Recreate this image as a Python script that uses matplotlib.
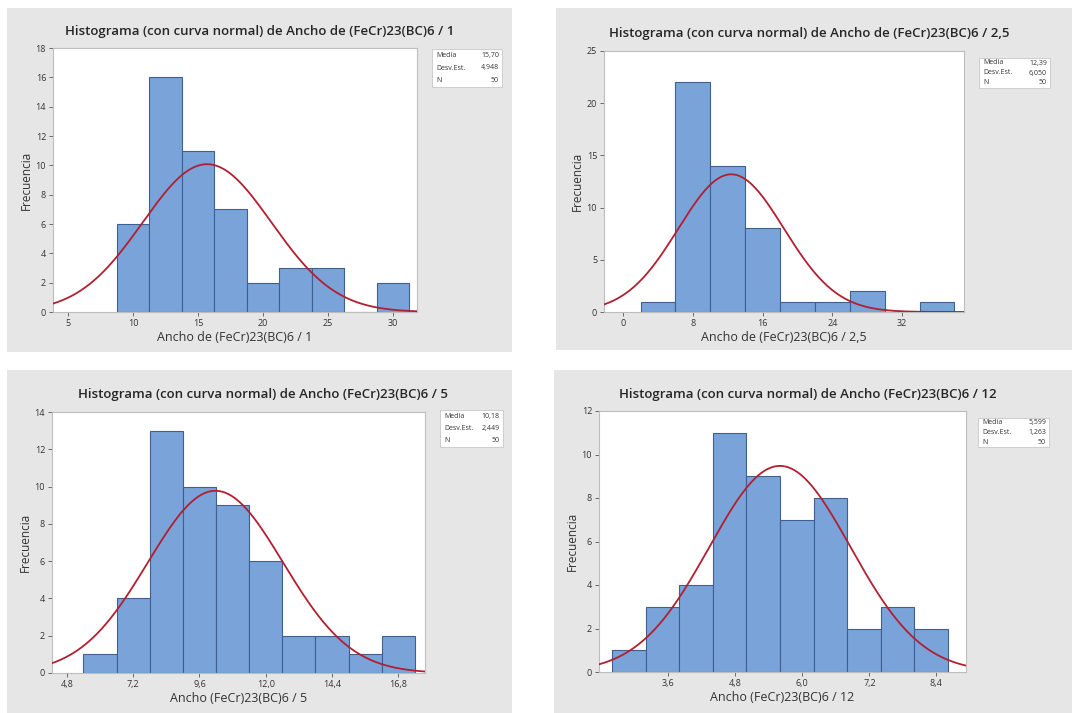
import matplotlib
matplotlib.use("Agg")
import matplotlib.pyplot as plt
from matplotlib.patches import Rectangle
from matplotlib.ticker import FuncFormatter
import numpy as np

plt.rcParams['font.family'] = ['Open Sans', 'DejaVu Sans']

W, H = 1072, 713

# --- data ------------------------------------------------------------------
titles = [
    "Histograma (con curva normal) de Ancho de (FeCr)23(BC)6 / 1",
    "Histograma (con curva normal) de Ancho de (FeCr)23(BC)6 / 2,5",
    "Histograma (con curva normal) de Ancho (FeCr)23(BC)6 / 5",
    "Histograma (con curva normal) de Ancho (FeCr)23(BC)6 / 12",
]
xlabels = [
    "Ancho de (FeCr)23(BC)6 / 1",
    "Ancho de (FeCr)23(BC)6 / 2,5",
    "Ancho (FeCr)23(BC)6 / 5",
    "Ancho (FeCr)23(BC)6 / 12",
]
bin_start = [8.75, 2.0, 5.4, 2.6]
bin_width = [2.5, 4.0, 1.2, 0.6]
counts_1 = [6, 16, 11, 7, 2, 3, 3, 0, 2]
counts_2 = [1, 22, 14, 8, 1, 1, 2, 0, 1]
counts_3 = [1, 4, 13, 10, 9, 6, 2, 2, 1, 2]
counts_4 = [1, 3, 4, 11, 9, 7, 8, 2, 3, 2]
counts = [counts_1, counts_2, counts_3, counts_4]

means = [15.70, 12.39, 10.18, 5.599]
stdevs = [4.948, 6.050, 2.449, 1.263]
mean_txt = ["15,70", "12,39", "10,18", "5,599"]
std_txt = ["4,948", "6,050", "2,449", "1,263"]
n_obs = [50, 50, 50, 50]

xticks = [[5, 10, 15, 20, 25, 30],
          [0, 8, 16, 24, 32],
          [4.8, 7.2, 9.6, 12.0, 14.4, 16.8],
          [3.6, 4.8, 6.0, 7.2, 8.4]]
tick_dec = [0, 0, 1, 1]
yticks = [list(range(0, 19, 2)), list(range(0, 26, 5)),
          list(range(0, 15, 2)), list(range(0, 13, 2))]
xlims = [(3.85, 31.85), (-2.2, 39.1), (4.26, 17.77), (2.36, 8.93)]

# --- layout in pixels (left, top, right, bottom) ----------------------------
panel_px = [(7, 8, 512, 352), (556, 8, 1072, 350),
            (7, 370, 512, 713), (554, 370, 1072, 713)]
axes_px = [(53, 48, 417, 312), (604, 51, 964, 312),
           (52, 412, 425, 673), (599, 411, 966, 672)]
box_px = [(432, 49, 502, 87), (979, 58, 1050, 88),
          (440, 410, 503, 447), (978, 418, 1049, 447)]

BAR = '#7aa3da'
EDGE = '#3f5f8f'
CURVE = '#b02030'
PANEL = '#e6e6e6'
TXT = '#333333'


def fx(px):
    return px / W


def fy(py):
    return 1 - py / H


fig = plt.figure(figsize=(W / 100, H / 100), dpi=100)
fig.patch.set_facecolor('white')

for i in range(4):
    l, t, r, b = panel_px[i]
    fig.patches.append(Rectangle((fx(l), fy(b)), fx(r - l), (b - t) / H,
                                 transform=fig.transFigure, facecolor=PANEL,
                                 edgecolor='none', zorder=-5))

    al, at, ar, ab = axes_px[i]
    ax = fig.add_axes([fx(al), fy(ab), fx(ar - al), (ab - at) / H])
    ax.set_facecolor('white')

    bw = bin_width[i]
    edges = bin_start[i] + bw * np.arange(len(counts[i]) + 1)
    ax.bar(edges[:-1], counts[i], width=bw, align='edge', color=BAR,
           edgecolor=EDGE, linewidth=0.8, zorder=2)

    xs = np.linspace(xlims[i][0], xlims[i][1], 400)
    pdf = np.exp(-0.5 * ((xs - means[i]) / stdevs[i]) ** 2) / (stdevs[i] * np.sqrt(2 * np.pi))
    ax.plot(xs, n_obs[i] * bw * pdf, color=CURVE, linewidth=1.3, zorder=3)

    ax.set_xlim(*xlims[i])
    ax.set_ylim(0, yticks[i][-1])
    ax.set_xticks(xticks[i])
    ax.set_yticks(yticks[i])
    d = tick_dec[i]
    ax.xaxis.set_major_formatter(FuncFormatter(lambda v, p, d=d: f"{v:.{d}f}".replace('.', ',')))
    ax.tick_params(axis='both', labelsize=6.5, colors='#555555', length=3,
                   width=0.6, labelcolor=TXT, pad=2)
    for s in ax.spines.values():
        s.set_color('#bdbdbd')
        s.set_linewidth(0.8)

    ax.set_xlabel(xlabels[i], fontsize=9, color=TXT, labelpad=2)
    ax.set_ylabel("Frecuencia", fontsize=8.5, color=TXT, labelpad=2)

    # title centred above the plot area
    fig.text(fx((al + ar) / 2 + 25), fy(at - 17), titles[i], ha='center',
             va='center', fontsize=9.5, color='#262626', fontweight='semibold')

    # statistics box
    bl, bt, br, bb = box_px[i]
    fig.patches.append(Rectangle((fx(bl), fy(bb)), fx(br - bl), (bb - bt) / H,
                                 transform=fig.transFigure, facecolor='white',
                                 edgecolor='#c8c8c8', linewidth=0.6, zorder=1))
    rows = [("Media", mean_txt[i]), ("Desv.Est.", std_txt[i]), ("N", str(n_obs[i]))]
    step = (bb - bt) / 3.0
    for k, (lab, val) in enumerate(rows):
        yy = fy(bt + step * (k + 0.5))
        fig.text(fx(bl + 4), yy, lab, ha='left', va='center', fontsize=5,
                 color=TXT, zorder=2)
        fig.text(fx(br - 3), yy, val, ha='right', va='center', fontsize=5,
                 color=TXT, zorder=2)

fig.savefig('out.png', dpi=100)
